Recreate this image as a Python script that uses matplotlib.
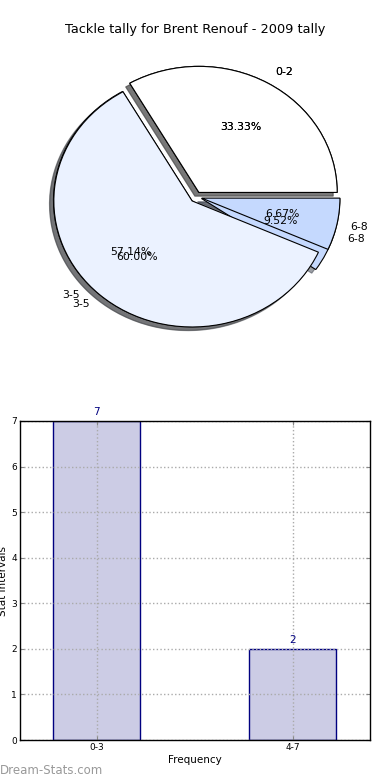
import matplotlib
matplotlib.use("Agg")
import matplotlib.pyplot as plt

title = "Tackle tally for Brent Renouf - 2009 tally"
pie_labels = ["0-2", "3-5", "6-8"]
pie_counts_a = [7, 12, 2]     # 33.33 / 57.14 / 9.52
pie_counts_b = [5, 9, 1]      # 33.33 / 60.00 / 6.67
pie_colors = ["#FFFFFF", "#EBF2FF", "#C5D9FE"]
explode = [0.04, 0.04, 0.04]

bar_cats = ["0-3", "4-7"]
bar_vals = [7, 2]

fig = plt.figure(figsize=(3.9, 7.8), dpi=100)

# ---- Pie ----
ax1 = fig.add_axes([15/390, 1 - 362/780, 362/390, 330/780])
for counts in (pie_counts_a, pie_counts_b):
    wedges, texts, autotexts = ax1.pie(
        counts, labels=pie_labels, colors=pie_colors, explode=explode,
        autopct="%1.2f%%", shadow=True, startangle=0, radius=0.955,
        wedgeprops=dict(edgecolor="black", linewidth=0.8),
        textprops=dict(fontsize=7.8))
ax1.set_aspect("auto")
ax1.set_xlim(-1.25, 1.25)
ax1.set_ylim(-1.25, 1.25)
fig.text(0.5, 1 - 30/780, title, fontsize=9.3, ha="center", va="center")

# ---- Bar ----
ax2 = fig.add_axes([19.5/390, 40/780, 350.5/390, 319/780])
x = list(range(len(bar_cats)))
bars = ax2.bar(x, bar_vals, width=0.444, color="#CCCCE5", edgecolor="#000080",
               linewidth=1.0, zorder=1)
for xi, v in zip(x, bar_vals):
    ax2.text(xi, v + 0.08, str(v), ha="center", va="bottom", color="#000080",
             fontsize=7.5)
ax2.set_xlim(-0.393, 1.393)
ax2.set_ylim(0, 7)
ax2.set_xticks(x)
ax2.set_xticklabels(bar_cats)
ax2.set_yticks(range(0, 8))
ax2.tick_params(axis="both", direction="in", labelsize=6.5, top=True, right=True,
                length=3, width=0.8, color="#888888", pad=2)
ax2.set_axisbelow("line")
ax2.grid(True, linestyle=":", color="#AAAAAA", linewidth=1.0)
ax2.set_xlabel("Frequency", fontsize=7.5, labelpad=2)
ax2.set_ylabel("Stat Intervals", fontsize=7.5)
ax2.yaxis.set_label_coords(-0.033, 0.5)
for s in ax2.spines.values():
    s.set_linewidth(1.0)
    s.set_zorder(3)

fig.text(0.0, 10/780, "Dream-Stats.com", color="#999999", fontsize=8.5,
         ha="left", va="center")

fig.savefig("out.png", dpi=100)
